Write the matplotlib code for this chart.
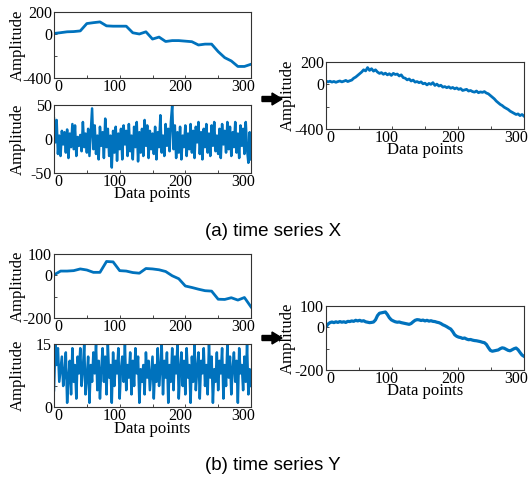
import numpy as np
import matplotlib
matplotlib.use("Agg")
import matplotlib.pyplot as plt
from matplotlib.patches import FancyArrow
from matplotlib.transforms import IdentityTransform, ScaledTranslation

# ---------------- data ----------------
trend_x = [5, 12, 20, 22, 28, 95, 103, 110, 74, 71, 71, 71, 11, 0, 20, -46, -28,
           -68, -60, -60, -65, -70, -100, -92, -92, -160, -215, -245, -295, -295, -275]

noise_x = [30, -5, 28, -22, 5, -25, 12, -8, 10, -20, 14, -28, 8, -12, 22, -15, 20, -25, 3, -10,
           6, -18, 25, -12, 8, -20, 15, -25, 10, 45, -15, 20, -22, 5, -30, 18, -10, 10, -28, 30,
           -12, 15, -25, 5, -42, 12, -20, 18, -32, 8, -15, 15, -30, 20, -8, 12, -25, 22, -18, 5,
           -30, 18, -12, 25, -33, 10, -20, 15, -25, 28, -10, 20, -28, 12, -15, 8, -22, 18, -30, 10,
           -12, 35, -20, 5, -25, 22, -10, 15, -18, 25, 50, -15, 20, -28, 10, -20, 18, -30, 5, -12,
           20, -25, 8, -15, 22, -20, 12, -28, 18, -5, 25, -22, 10, -30, 15, -12, 22, -20, 8, -25,
           20, -10, 25, -18, 5, -22, 15, -28, 22, -8, 12, -20, 25, -15, 18, -25, 10, -12, 25, -20,
           8, -28, 20, -10, 15, -22, 25, -15, -35, 10, -30]

combined_x = [30, 22, 28, 20, 26, 18, 25, 30, 22, 28, 35, 25, 32, 38, 55, 65, 80, 95, 110, 130,
              120, 150, 125, 140, 118, 130, 110, 98, 105, 90, 100, 85, 95, 80, 98, 88, 92, 75, 85, 60,
              55, 40, 48, 30, 38, 20, 25, 15, 22, 5, 10, -5, 8, 0, 15, -10, 2, -15, -8, -25,
              -20, -30, -22, -35, -28, -40, -32, -45, -38, -55, -50, -45, -60, -55, -65, -70, -60, -75, -68, -72,
              -65, -78, -85, -100, -115, -130, -150, -165, -180, -190, -205, -215, -225, -240, -250, -260, -270, -265, -280, -270,
              -285]

trend_y = [2, 20, 20, 22, 30, 25, 14, 14, 65, 63, 22, 20, 13, 10, 32, 30, 26, 18, -2, -16,
           -50, -57, -65, -72, -74, -112, -113, -105, -116, -104, -148]

noise_y = [4, 15, 10, 14, 6, 9, 12, 5, 8, 13, 1, 7, 11, 3, 14, 6, 10, 2, 12, 8,
           14, 5, 9, 15, 3, 7, 12, 1, 10, 6, 13, 8, 15, 4, 11, 2, 9, 14, 6, 12,
           3, 15, 7, 10, 1, 13, 5, 11, 8, 14, 2, 9, 12, 6, 15, 4, 10, 7, 13, 3,
           11, 5, 14, 8, 12, 1, 9, 6, 10, 3, 13, 7, 11, 4, 8, 12, 2, 10, 6, 14,
           5, 9, 15, 3, 11, 7, 13, 1, 10, 6, 14, 4, 12, 8, 15, 2, 9, 13, 5, 11,
           3, 14, 7, 10, 1, 12, 6, 15, 4, 9, 13, 2, 11, 8, 14, 5, 10, 3, 15, 7,
           12, 1, 9, 6, 13, 4, 11, 8, 14, 2, 10, 5, 15, 7, 12, 3, 9, 13, 6, 11,
           1, 14, 8, 10, 4, 12, 6, 15, 3, 9, 5]

combined_y = [2, 15, 22, 25, 22, 26, 23, 27, 24, 26, 23, 28, 27, 30, 28, 33, 30, 33, 29, 31,
              26, 24, 22, 23, 25, 35, 55, 66, 68, 70, 72, 60, 45, 35, 30, 26, 24, 25, 22, 20,
              18, 16, 14, 18, 26, 33, 36, 35, 32, 34, 30, 33, 29, 31, 28, 27, 24, 22, 18, 12,
              8, 3, -3, -8, -20, -35, -42, -46, -48, -52, -50, -55, -58, -57, -60, -62, -63, -65, -67, -70,
              -72, -80, -95, -108, -112, -110, -108, -106, -100, -96, -98, -103, -108, -110, -105, -100, -97, -105, -118, -130,
              -136]

xticks = [0, 50, 100, 150, 200, 250, 300]
xticklabels = ['0', '', '100', '', '200', '', '300']

# ---------------- style ----------------
plt.rcParams['axes.unicode_minus'] = False
BLUE = '#0072BD'
SERIF = 'Liberation Serif'
W, H = 529, 483
fig = plt.figure(figsize=(W / 100, H / 100), dpi=100)

# horizontal pixel shifts of x tick labels (as in the reference)
label_shift = {'0': 4, '100': -5, '200': -5, '300': -8}


def rect(l, r, t, b):
    return [l / W, 1 - b / H, (r - l) / W, (b - t) / H]


def style(ax, yticks, yticklabels, ylim, xlabel=False, ylab_x=-0.145, xlab_y=-0.17):
    ax.set_xlim(0, 300)
    ax.set_ylim(*ylim)
    ax.set_xticks(xticks)
    ax.set_xticklabels(xticklabels, fontfamily=SERIF, fontsize=11.5)
    ax.set_yticks(yticks)
    ax.set_yticklabels(yticklabels, fontfamily=SERIF, fontsize=11.5)
    ax.tick_params(direction='in', length=2.5, width=0.5)
    ax.tick_params(axis='x', pad=0.5)
    ax.tick_params(axis='y', pad=1.5)
    for lab in ax.get_xticklabels():
        dx = label_shift.get(lab.get_text(), 0)
        lab.set_transform(lab.get_transform() + ScaledTranslation(dx / 100, 0, fig.dpi_scale_trans))
    for s in ax.spines.values():
        s.set_linewidth(0.8)
        s.set_color('#333333')
    ax.set_ylabel('Amplitude', fontfamily=SERIF, fontsize=12)
    ax.yaxis.set_label_coords(ylab_x, 0.5)
    if xlabel:
        ax.set_xlabel('Data points', fontfamily=SERIF, fontsize=12, va='top')
        ax.xaxis.set_label_coords(0.5, xlab_y)


tx = np.arange(len(trend_x)) * 10

# ---- (a) time series X ----
ax1 = fig.add_axes(rect(54, 251, 12, 78))
ax1.plot(tx, trend_x, color=BLUE, lw=2)
style(ax1, [-400, -200, 0, 200], ['-400', '', '0', '200'], (-400, 200))

ax2 = fig.add_axes(rect(54, 251, 105, 173))
ax2.plot(np.linspace(0, 300, len(noise_x)), noise_x, color=BLUE, lw=1.8)
style(ax2, [-50, 0, 50], ['-50', '0', '50'], (-50, 50), xlabel=True, xlab_y=-0.19)

ax3 = fig.add_axes(rect(326, 524, 62, 129))
ax3.plot(np.linspace(0, 300, len(combined_x)), combined_x, color=BLUE, lw=2)
style(ax3, [-400, -200, 0, 200], ['-400', '', '0', '200'], (-400, 200), xlabel=True,
      xlab_y=-0.195, ylab_x=-0.15)

# ---- (b) time series Y ----
ty = np.arange(len(trend_y)) * 10
ax4 = fig.add_axes(rect(54, 251, 254, 318))
ax4.plot(ty, trend_y, color=BLUE, lw=2)
style(ax4, [-200, -100, 0, 100], ['-200', '', '0', '100'], (-200, 100))

ax5 = fig.add_axes(rect(54, 251, 344, 407))
ax5.plot(np.linspace(0, 300, len(noise_y)), noise_y, color=BLUE, lw=1.8)
style(ax5, [0, 5, 10, 15], ['0', '', '', '15'], (0, 15), xlabel=True, xlab_y=-0.22)

ax6 = fig.add_axes(rect(326, 524, 306, 370))
ax6.plot(np.linspace(0, 300, len(combined_y)), combined_y, color=BLUE, lw=2.3)
style(ax6, [-200, -100, 0, 100], ['-200', '', '0', '100'], (-200, 100), xlabel=True,
      xlab_y=-0.2, ylab_x=-0.15)

# arrows
for yc in (99, 338):
    fig.patches.append(FancyArrow(262, H - yc, 20, 0, width=5, head_width=12, head_length=10,
                                  length_includes_head=True, color='black',
                                  transform=IdentityTransform(), figure=fig))

# captions
fig.text(273 / W, 1 - 232 / H, '(a) time series X', ha='center', va='center',
         fontfamily='Liberation Sans', fontsize=13.5)
fig.text(273 / W, 1 - 466 / H, '(b) time series Y', ha='center', va='center',
         fontfamily='Liberation Sans', fontsize=13.5)

fig.savefig('out.png', dpi=100)
